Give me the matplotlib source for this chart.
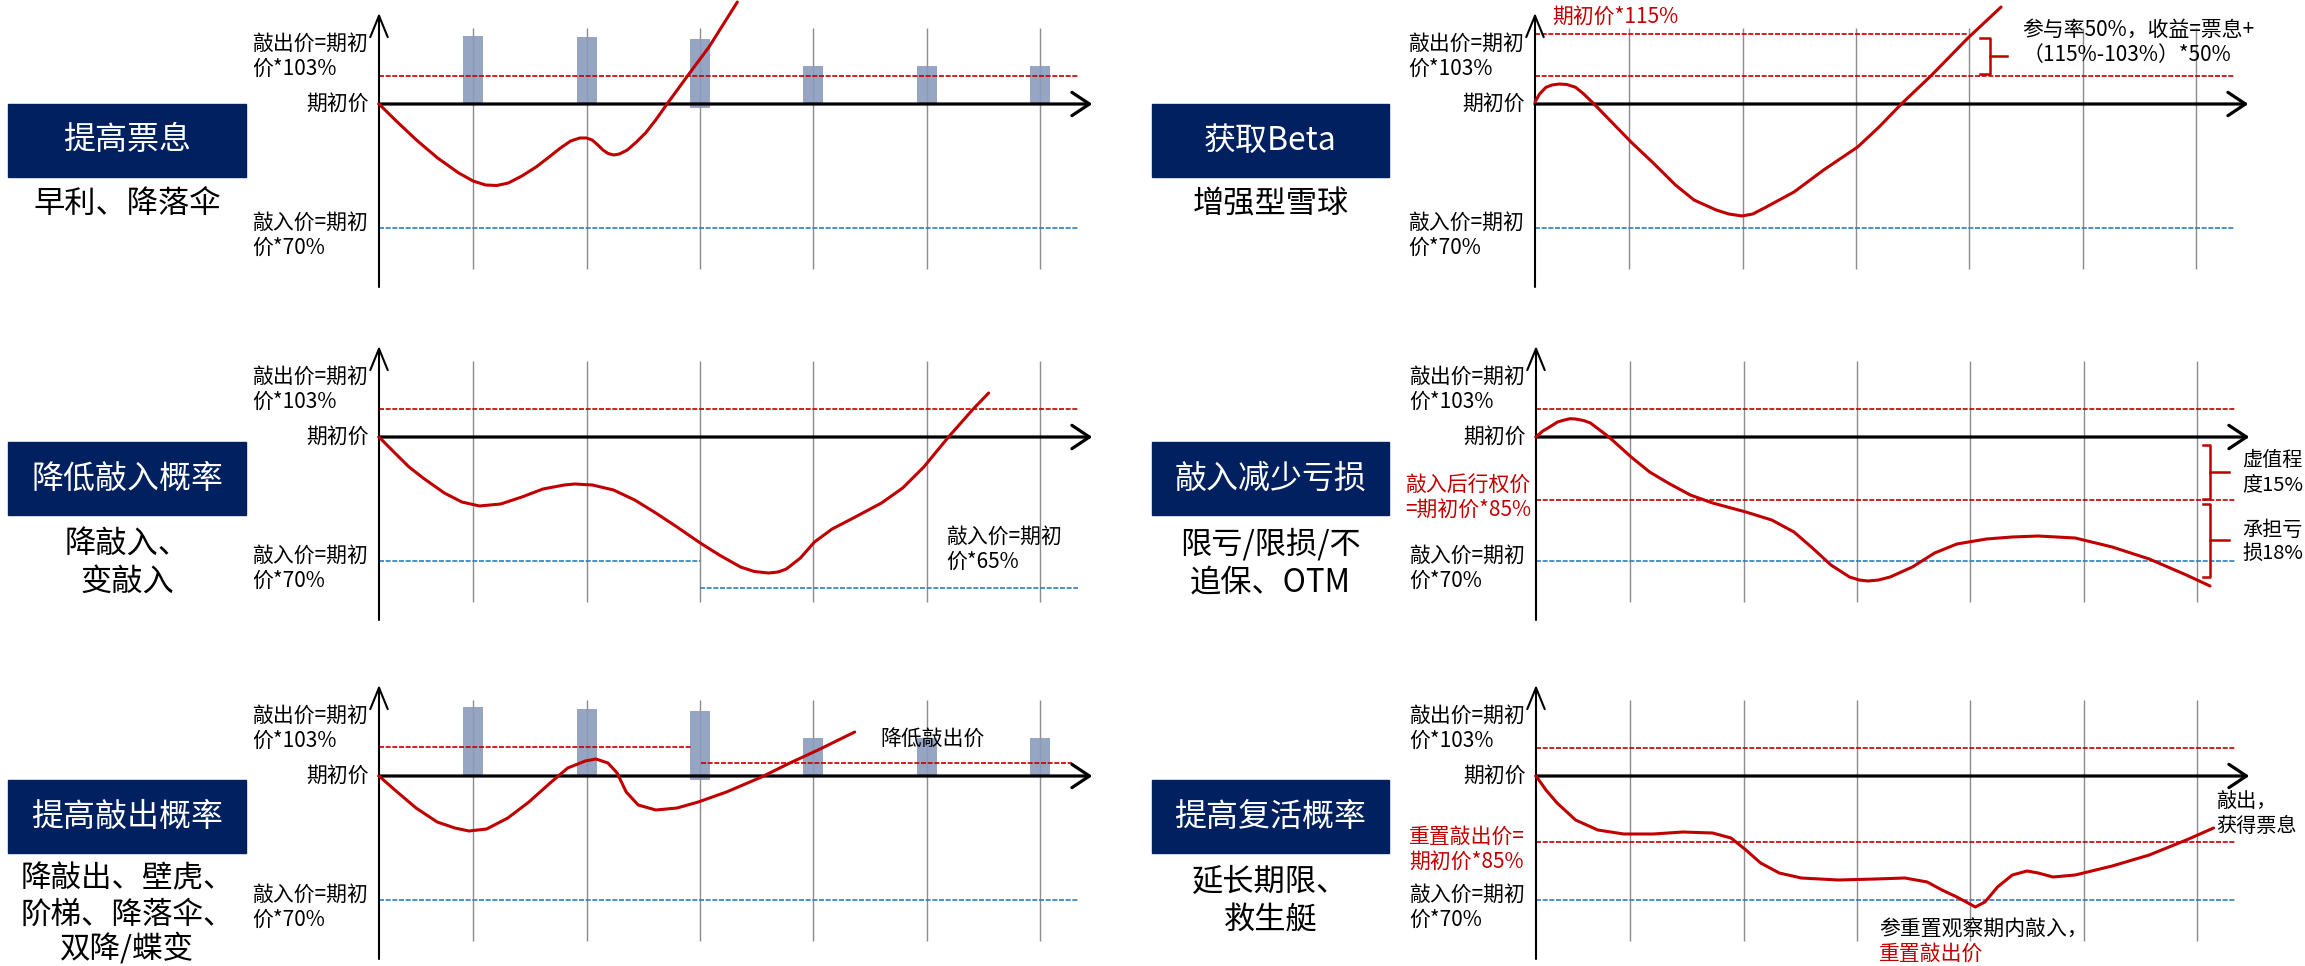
"""Six snowball-structure schematics: knock-out / knock-in levels, coupon bars, price paths."""
import matplotlib
matplotlib.use("Agg")
import matplotlib.pyplot as plt
from matplotlib.patches import Rectangle

plt.rcParams['font.family'] = ['Noto Sans CJK SC', 'DejaVu Sans']

W, H = 2305, 966
NAVY, RED, BLUE, BAR, GRID = '#002060', '#C00000', '#2E7BC6', '#8A9BBC', '#8C8C8C'

# ---- data (x: observation periods, y: schematic level, 0 = initial price) ----
obs_dates = [1, 2, 3, 4, 5, 6]
KO, KI = 28, -124            # 期初价*103% / 期初价*70%
KI_LOW = -151                # 期初价*65%
KO_LOW = 13                  # lowered knock-out
STRIKE_85 = -63              # 敲入后行权价 = 期初价*85%
RESET_85 = -66               # 重置敲出价 = 期初价*85%
CAP_115 = 70                 # 期初价*115%

coupon_top = [68, 67, 65, 38, 38, 38]
coupon_bottom = [0, 0, -4, 0, 0, 0]
coupon5_top = [69, 67, 65, 38, 38, 38]

p1_x = [0.17, 0.313, 0.50, 0.687, 0.873, 1.0, 1.11, 1.21, 1.31, 1.43, 1.555, 1.67,
        1.77, 1.86, 1.94, 2.0, 2.05, 2.1, 2.145, 2.19, 2.24, 2.29, 2.36, 2.44, 2.52,
        2.61, 2.71, 2.89, 3.08, 3.33]
p1_y = [0, -16, -36, -54, -69, -77, -81, -81.5, -79, -72, -63, -53, -44, -37, -34,
        -34, -36, -41, -46, -49.5, -51, -50, -46, -38, -29, -16, 0, 28, 57, 102]

p2_x = [0.17, 0.21, 0.267, 0.32, 0.384, 0.45, 0.528, 0.6, 0.691, 0.854, 1.017, 1.213,
        1.409, 1.572, 1.768, 1.88, 1.996, 2.09, 2.193, 2.454, 2.715, 3.015, 3.204,
        3.40, 3.66, 3.988, 4.28]
p2_y = [2, 10, 16.7, 19, 20, 19.5, 16.7, 10, 0, -19, -38, -59, -81, -96, -106, -110,
        -112, -110, -104, -88, -66, -43, -23, 0, 28, 66, 97]

p3_x = [0.17, 0.31, 0.435, 0.559, 0.746, 0.901, 1.056, 1.243, 1.43, 1.616, 1.803,
        1.897, 2.052, 2.238, 2.425, 2.611, 2.798, 3.003, 3.171, 3.358, 3.48, 3.606,
        3.69, 3.762, 3.886, 4.01, 4.166, 4.353, 4.601, 4.788, 4.974, 5.192, 5.41, 5.546]
p3_y = [0, -16, -30, -41, -56, -65, -69, -67, -60, -52, -48, -47, -48, -53, -63, -76,
        -90, -106, -118, -130, -134.5, -136, -135, -132, -121, -105, -92, -81, -66, -51,
        -30, 0, 28, 44]

p4_x = [0.17, 0.23, 0.29, 0.36, 0.421, 0.47, 0.519, 0.59, 0.65, 0.72, 0.813, 1.009,
        1.172, 1.335, 1.531, 1.727, 2.021, 2.249, 2.445, 2.608, 2.771, 2.935, 3.02,
        3.098, 3.19, 3.293, 3.489, 3.685, 3.881, 4.142, 4.37, 4.599, 4.925, 5.251,
        5.578, 5.905, 6.114]
p4_y = [0, 6, 10, 15, 17, 18.3, 18, 16.5, 14, 8, 0, -20, -35, -46, -58, -66, -75,
        -83, -95, -111, -128, -140, -143, -144, -143, -140, -130, -116, -107, -102,
        -100, -99, -101, -110, -122, -138, -149]

p5_x = [0.17, 0.31, 0.497, 0.683, 0.839, 0.964, 1.119, 1.306, 1.492, 1.679, 1.834,
        1.989, 2.083, 2.189, 2.27, 2.35, 2.456, 2.611, 2.798, 2.985, 3.234, 3.544,
        3.793, 4.042, 4.365]
p5_y = [0, -14, -32, -46, -52, -55, -53, -42, -26, -7, 8, 15, 17, 13, 3, -16, -29,
        -34, -32, -26, -16, -1, 13, 26, 44]

p6_x = [0.17, 0.258, 0.356, 0.519, 0.715, 0.943, 1.204, 1.465, 1.727, 1.89, 2.021,
        2.151, 2.315, 2.51, 2.837, 3.163, 3.424, 3.62, 3.75, 3.881, 3.98, 4.044, 4.129,
        4.24, 4.37, 4.5, 4.598, 4.729, 4.925, 5.251, 5.578, 5.905, 6.145]
p6_y = [0, -14, -27, -44, -54, -58, -58, -56, -57, -62, -74, -87, -97, -102, -104,
        -103, -102, -106, -114, -121, -127, -131, -126, -111, -99, -95, -97, -101, -99,
        -90, -79, -64, -52]

# ---- layout ----
PERIOD_PX = 113.4      # one observation period in pixels
AXIS_X = 0.17          # price axis position (periods)
XMAX = 6.6
LINE_END = 6.33
ARROW_TIP = 6.46
LBL_X = -0.95
FS, FS_BIG = 15, 23

fig = plt.figure(figsize=(W / 100, H / 100), dpi=100)


def panel(ox, oy):
    left = ox - AXIS_X * PERIOD_PX
    ax = fig.add_axes([left / W, 1 - (oy + 190) / H, XMAX * PERIOD_PX / W, 290 / H])
    ax.set_xlim(0, XMAX)
    ax.set_ylim(-190, 100)
    ax.axis('off')
    return ax


def lines(ax, x, y, rows, color='black', ha='left', step=25, fs=FS):
    for i, r in enumerate(rows):
        ax.text(x, y - i * step, r, fontsize=fs, color=color, ha=ha, va='center',
                clip_on=False)


def dashed(ax, y, x0, x1, color):
    ax.hlines(y, x0, x1, colors=color, linestyles=(0, (3, 1)), lw=1.2, zorder=3)


def base(ax, ko=True, ki=True):
    ax.vlines(obs_dates, -165, 76, colors=GRID, lw=1.0, zorder=1)
    if ko:
        dashed(ax, KO, AXIS_X, LINE_END, RED)
    if ki:
        dashed(ax, KI, AXIS_X, LINE_END, BLUE)
    ax.annotate('', xy=(ARROW_TIP, 0), xytext=(AXIS_X, 0), zorder=4,
                arrowprops=dict(arrowstyle='->,head_length=0.9,head_width=0.6',
                                mutation_scale=14, lw=2.3, color='black',
                                shrinkA=0, shrinkB=0))
    ax.annotate('', xy=(AXIS_X, 91), xytext=(AXIS_X, -183), zorder=4,
                arrowprops=dict(arrowstyle='->,head_length=1.1,head_width=0.45',
                                mutation_scale=14, lw=1.5, color='black',
                                shrinkA=0, shrinkB=0))
    lines(ax, 0.08, 0, ['期初价'], ha='right')
    lines(ax, LBL_X, 60, ['敲出价=期初', '价*103%'])
    lines(ax, LBL_X, -119, ['敲入价=期初', '价*70%'])


def path(ax, x, y):
    ax.plot(x, y, color=RED, lw=2.2, zorder=5, clip_on=False,
            solid_capstyle='round', solid_joinstyle='round')


def bracket(ax, x_hook, x_v, x_tick, top, bottom):
    ax.plot([x_hook, x_v, x_v, x_hook], [top, top, bottom, bottom], color=RED, lw=1.8,
            zorder=5, clip_on=False)
    mid = (top + bottom) / 2
    ax.plot([x_v, x_tick], [mid, mid], color=RED, lw=1.8, zorder=5, clip_on=False)


def side_box(x0, y0, x1, y1, title, sub, sub_y, sub_fs=22.5):
    fig.add_artist(Rectangle((x0 / W, 1 - y1 / H), (x1 - x0) / W, (y1 - y0) / H,
                             transform=fig.transFigure, color=NAVY))
    cx = (x0 + x1) / 2
    fig.text(cx / W, 1 - (y0 + y1) / 2 / H, title, color='white', fontsize=FS_BIG,
             ha='center', va='center')
    for s, sy in zip(sub, sub_y):
        fig.text(cx / W, 1 - sy / H, s, color='black', fontsize=sub_fs,
                 ha='center', va='center')


# 1. 提高票息
ax = panel(379, 104)
base(ax)
ax.bar(obs_dates, [t - b for t, b in zip(coupon_top, coupon_bottom)], bottom=coupon_bottom,
       width=0.176, color=BAR, alpha=0.9, zorder=2)
path(ax, p1_x, p1_y)
side_box(8, 104, 246, 177, '提高票息', ['早利、降落伞'], [205])

# 2. 获取Beta
ax = panel(1535, 104)
base(ax)
dashed(ax, CAP_115, AXIS_X, 3.99, RED)
ax.text(0.32, 87, '期初价*115%', fontsize=FS, color=RED, va='center')
bracket(ax, 4.094, 4.182, 4.332, 66, 30)
lines(ax, 4.47, 74, ['参与率50%，收益=票息+', '（115%-103%）*50%'])
path(ax, p2_x, p2_y)
side_box(1152, 104, 1389, 177, '获取Beta', ['增强型雪球'], [205])

# 3. 降低敲入概率
ax = panel(379, 437)
base(ax, ki=False)
dashed(ax, KI, AXIS_X, 3.0, BLUE)
dashed(ax, KI_LOW, 3.0, LINE_END, BLUE)
lines(ax, 5.17, -100, ['敲入价=期初', '价*65%'])
path(ax, p3_x, p3_y)
side_box(8, 442, 246, 515, '降低敲入概率', ['降敲入、', '变敲入'], [544, 582])

# 4. 敲入减少亏损
ax = panel(1536, 437)
base(ax)
dashed(ax, STRIKE_85, AXIS_X, LINE_END, RED)
lines(ax, -0.985, -48, ['敲入后行权价', '=期初价*85%'], color=RED)
bracket(ax, 6.05, 6.11, 6.28, -8, -62)
bracket(ax, 6.05, 6.11, 6.28, -67, -140)
lines(ax, 6.40, -24, ['虚值程', '度15%'], step=24, fs=14.5)
lines(ax, 6.40, -93, ['承担亏', '损18%'], step=24, fs=14.5)
path(ax, p4_x, p4_y)
side_box(1152, 442, 1389, 515, '敲入减少亏损', ['限亏/限损/不', '追保、OTM'], [544, 582])

# 5. 提高敲出概率
ax = panel(379, 776)
base(ax, ko=False)
dashed(ax, KO + 1, AXIS_X, 2.92, RED)
dashed(ax, KO_LOW, 3.01, 6.28, RED)
ax.bar(obs_dates, [t - b for t, b in zip(coupon5_top, coupon_bottom)], bottom=coupon_bottom,
       width=0.176, color=BAR, alpha=0.9, zorder=2)
lines(ax, 4.59, 36, ['降低敲出价'])
path(ax, p5_x, p5_y)
side_box(8, 780, 246, 853, '提高敲出概率', ['降敲出、壁虎、', '阶梯、降落伞、', '双降/蝶变'],
         [879, 915, 949], sub_fs=22)

# 6. 提高复活概率
ax = panel(1536, 776)
base(ax)
dashed(ax, RESET_85, AXIS_X, LINE_END, RED)
lines(ax, LBL_X, -61, ['重置敲出价=', '期初价*85%'], color=RED)
lines(ax, 6.17, -25, ['敲出，', '获得票息'], step=26, fs=14.5)
lines(ax, 3.195, -154, ['参重置观察期内敲入，'])
lines(ax, 3.195, -178, ['重置敲出价'], color=RED)
path(ax, p6_x, p6_y)
side_box(1152, 780, 1389, 853, '提高复活概率', ['延长期限、', '救生艇'], [882, 920])

fig.savefig('out.png', dpi=100)
